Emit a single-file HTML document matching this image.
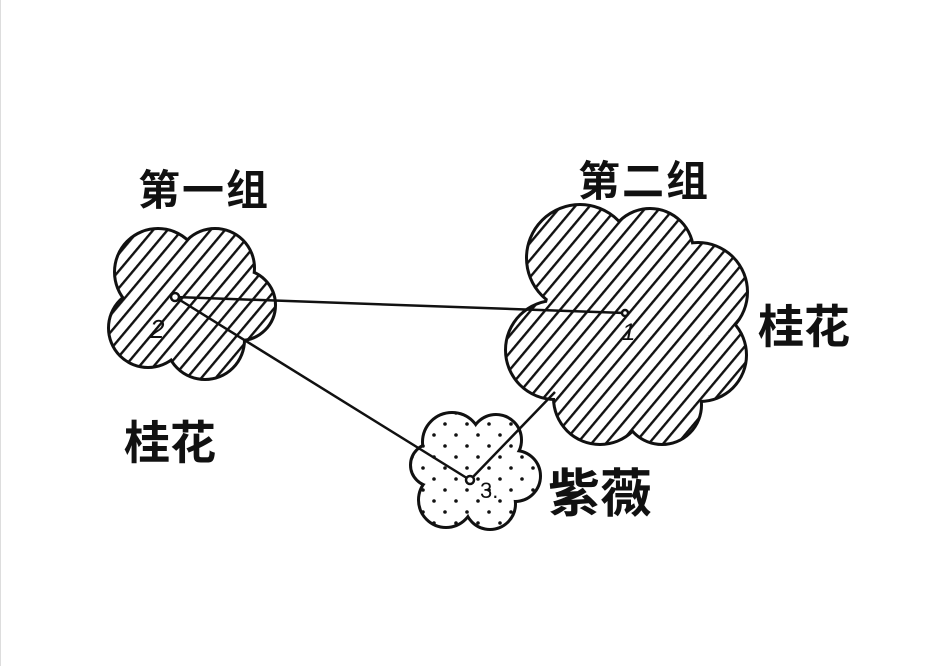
<!DOCTYPE html>
<html><head><meta charset="utf-8"><style>
html,body{margin:0;padding:0;background:#fff;}
svg{display:block;}
text{font-family:"Liberation Sans","Noto Sans CJK SC",sans-serif;fill:#111;}
.l{font-weight:bold;}
</style></head><body>
<svg width="942" height="666" viewBox="0 0 942 666" xmlns="http://www.w3.org/2000/svg">
<defs>
<pattern id="h" width="11" height="11" patternUnits="userSpaceOnUse" patternTransform="rotate(40)">
<rect width="11" height="11" fill="#fff"/>
<rect x="0" y="0" width="2.4" height="11" fill="#111"/>
</pattern>
<pattern id="d" width="22" height="22" patternUnits="userSpaceOnUse">
<rect width="22" height="22" fill="#fff"/>
<circle cx="5" cy="6" r="1.8" fill="#111"/>
<circle cx="16" cy="17" r="1.8" fill="#111"/>
</pattern>
</defs>
<rect width="942" height="666" fill="#fff"/>
<line x1="0.5" y1="0" x2="0.5" y2="666" stroke="#ddd"/>
<g stroke="#111" stroke-width="6" fill="#111">
<circle cx="158" cy="272" r="42"/><circle cx="215" cy="268" r="38"/><circle cx="240" cy="305" r="34"/>
<circle cx="205" cy="340" r="38"/><circle cx="148" cy="328" r="38"/><circle cx="190" cy="302" r="50"/>
</g>
<g fill="url(#h)">
<circle cx="158" cy="272" r="42"/><circle cx="215" cy="268" r="38"/><circle cx="240" cy="305" r="34"/>
<circle cx="205" cy="340" r="38"/><circle cx="148" cy="328" r="38"/><circle cx="190" cy="302" r="50"/>
</g>
<g stroke="#111" stroke-width="6" fill="#111">
<circle cx="580" cy="258" r="52"/><circle cx="650" cy="252" r="42"/><circle cx="698" cy="292" r="48"/>
<circle cx="700" cy="355" r="45"/><circle cx="662" cy="405" r="38"/><circle cx="600" cy="398" r="45"/>
<circle cx="555" cy="350" r="48"/><circle cx="625" cy="320" r="80"/>
</g>
<g fill="url(#h)">
<circle cx="580" cy="258" r="52"/><circle cx="650" cy="252" r="42"/><circle cx="698" cy="292" r="48"/>
<circle cx="700" cy="355" r="45"/><circle cx="662" cy="405" r="38"/><circle cx="600" cy="398" r="45"/>
<circle cx="555" cy="350" r="48"/><circle cx="625" cy="320" r="80"/>
</g>
<g stroke="#111" stroke-width="6" fill="#111">
<circle cx="452" cy="442" r="28"/><circle cx="496" cy="440" r="24"/><circle cx="515" cy="476" r="24"/>
<circle cx="490" cy="504" r="24"/><circle cx="446" cy="500" r="26"/><circle cx="432" cy="465" r="20"/><circle cx="475" cy="470" r="40"/>
</g>
<g fill="url(#d)">
<circle cx="452" cy="442" r="28"/><circle cx="496" cy="440" r="24"/><circle cx="515" cy="476" r="24"/>
<circle cx="490" cy="504" r="24"/><circle cx="446" cy="500" r="26"/><circle cx="432" cy="465" r="20"/><circle cx="475" cy="470" r="40"/>
</g>
<g stroke="#111" stroke-width="2.5" fill="none">
<line x1="175" y1="297" x2="625" y2="313"/>
<line x1="175" y1="297" x2="470" y2="480"/>
<line x1="470" y1="480" x2="555" y2="392"/>
</g>
<g stroke="#111" stroke-width="2.5" fill="#fff">
<circle cx="175" cy="297" r="4"/><circle cx="470" cy="480" r="4"/><circle cx="625" cy="313" r="3"/>
</g>
<text x="150" y="338" font-size="26" font-style="italic">2</text>
<text x="622" y="340" font-size="24" font-style="italic">1</text>
<text x="480" y="498" font-size="22">3.</text>
<text class="l" x="138" y="205" font-size="42" letter-spacing="2">第一组</text>
<text class="l" x="578" y="196" font-size="42" letter-spacing="2">第二组</text>
<text class="l" x="758" y="343" font-size="46">桂花</text>
<text class="l" x="124" y="459" font-size="46">桂花</text>
<text class="l" x="548" y="512" font-size="52">紫薇</text>
</svg>
</body></html>
